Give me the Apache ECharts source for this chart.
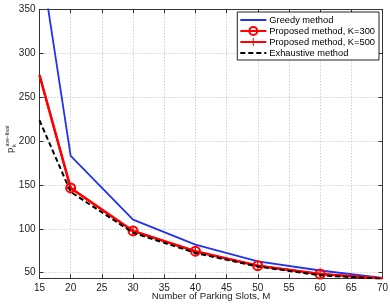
<!DOCTYPE html>
<html><head><meta charset="utf-8">
<script src="https://cdn.jsdelivr.net/npm/echarts@6/dist/echarts.min.js"></script>
<style>html,body{margin:0;padding:0;background:#fff}#c{width:390px;height:304px}</style>
</head><body><div id="c"></div>
<script>
const xValues = [15, 20, 30, 40, 50, 60, 70];
const greedy = [415, 183, 110.5, 82, 63, 52.5, 44];
const proposedK300 = [275, 146.5, 97.5, 74.5, 58, 48.5, 43.5];
const proposedK500 = [275, 146, 97.5, 74, 58, 48.5, 43.5];
const exhaustive = [223.5, 142, 95.5, 72.5, 57, 47, 43];
const yTicks = [50, 100, 150, 200, 250, 300, 350];
const seriesNames = ['Greedy method', 'Proposed method, K=300', 'Proposed method, K=500', 'Exhaustive method'];

const FONT = '"Liberation Sans", Arial, Helvetica, sans-serif';
const plusPath = 'path://M-0.12,-1L0.12,-1L0.12,-0.12L1,-0.12L1,0.12L0.12,0.12L0.12,1L-0.12,1L-0.12,0.12L-1,0.12L-1,-0.12L-0.12,-0.12Z';
const hidden = { color: 'rgba(0,0,0,0)', borderColor: 'rgba(0,0,0,0)', borderWidth: 0 };

function pts(arr, markEnds) {
  return arr.map((v, i) => {
    const d = { value: [xValues[i], v] };
    if (markEnds && (i === 0 || i === arr.length - 1)) d.symbol = 'none';
    return d;
  });
}
const chart = echarts.init(document.getElementById('c'), null, { renderer: 'canvas' });
const axisCommon = {
  axisLine: { show: true, onZero: false, lineStyle: { color: '#333', width: 1 } },
  axisTick: { show: true, inside: true, length: 4, lineStyle: { color: '#333' } },
};
chart.setOption({
  animation: false,
  backgroundColor: '#fff',
  textStyle: { fontFamily: FONT },
  grid: { left: 39.5, right: 7.5, top: 9.3, bottom: 25.7, containLabel: false, outerBoundsMode: 'none' },
  legend: {
    data: [
      { name: seriesNames[0], itemStyle: hidden },
      { name: seriesNames[1] },
      { name: seriesNames[2] },
      { name: seriesNames[3], itemStyle: hidden }
    ],
    orient: 'vertical',
    right: 11, top: 12,
    padding: [3, 4, 2, 2],
    itemGap: 1,
    itemWidth: 26, itemHeight: 10,
    borderColor: '#222', borderWidth: 1,
    backgroundColor: '#fff',
    textStyle: { fontFamily: FONT, fontSize: 9.3, lineHeight: 10, color: '#000', padding: [0, 0, 0, -2] }
  },
  xAxis: [{
    type: 'value', min: 15, max: 70, interval: 5, position: 'bottom',
    ...axisCommon,
    axisLabel: { color: '#222', fontSize: 10, fontFamily: FONT, margin: 5 },
    splitLine: { show: true, lineStyle: { color: '#bbb', type: [1, 2], width: 1 } },
    name: 'Number of Parking Slots, M', nameLocation: 'middle', nameGap: 13.5,
    nameMoveOverlap: false,
    nameTextStyle: { color: '#222', fontSize: 9.7, fontFamily: FONT, verticalAlign: 'top' }
  }, {
    type: 'value', min: 15, max: 70, interval: 5, position: 'top',
    ...axisCommon, axisLabel: { show: false }, splitLine: { show: false }
  }],
  yAxis: [{
    type: 'value', min: 43.6, max: 350, position: 'left',
    ...axisCommon,
    axisTick: { show: true, inside: true, length: 4, lineStyle: { color: '#333' }, customValues: yTicks },
    axisLabel: { color: '#222', fontSize: 10, fontFamily: FONT, margin: 4, customValues: yTicks },
    splitLine: { show: true, lineStyle: { color: '#bbb', type: [1, 2], width: 1 } }
  }, {
    type: 'value', min: 43.6, max: 350, position: 'right',
    ...axisCommon,
    axisTick: { show: true, inside: true, length: 4, lineStyle: { color: '#333' }, customValues: yTicks },
    axisLabel: { show: false }, splitLine: { show: false }
  }],
  graphic: [{
    type: 'group', x: 10.5, y: 153, rotation: Math.PI / 2,
    children: [
      { type: 'text', x: 0, y: 0, style: { text: 'p', font: '9.5px ' + FONT, fill: '#222', align: 'left', verticalAlign: 'middle' } },
      { type: 'text', x: 5.8, y: 3.8, style: { text: 'k', font: '6px ' + FONT, fill: '#222', align: 'left', verticalAlign: 'middle' } },
      { type: 'text', x: 6.5, y: -2.8, style: { text: 'ave\u2212final', font: '5.2px ' + FONT, fill: '#222', align: 'left', verticalAlign: 'middle' } }
    ]
  }],
  series: [{
    name: seriesNames[0], type: 'line', data: pts(greedy, false), symbol: 'none',
    lineStyle: { color: '#2233ee', width: 1.8 }, itemStyle: { color: '#2233ee' }, clip: true, z: 2
  }, {
    name: seriesNames[1], type: 'line', data: pts(proposedK300, true), symbol: 'circle', symbolSize: 9,
    showSymbol: true,
    lineStyle: { color: '#ff0000', width: 2.5 },
    itemStyle: { color: 'rgba(255,255,255,0)', borderColor: '#ff0000', borderWidth: 2 }, clip: true, z: 3
  }, {
    name: seriesNames[2], type: 'line', data: pts(proposedK500, true), symbol: plusPath, symbolSize: 10,
    lineStyle: { color: '#ff0000', width: 2 },
    itemStyle: { color: '#ff0000' }, clip: true, z: 4
  }, {
    name: seriesNames[3], type: 'line', data: pts(exhaustive, false), symbol: 'none',
    lineStyle: { color: '#000', width: 2, type: [5, 3] }, itemStyle: { color: '#000' }, clip: true, z: 5
  }]
});
</script></body></html>
